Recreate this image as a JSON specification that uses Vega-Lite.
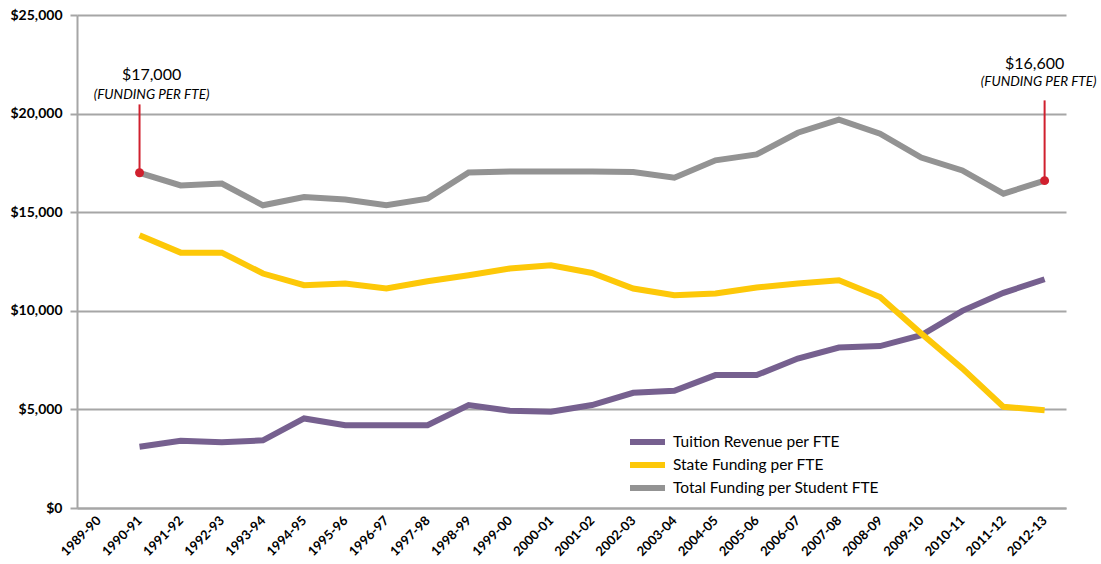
{
  "$schema": "https://vega.github.io/schema/vega-lite/v6.json",
  "width": 989,
  "height": 493,
  "autosize": "none",
  "padding": {"left": 77, "top": 15, "right": 35, "bottom": 56},
  "background": "white",
  "config": {
    "view": {"stroke": null},
    "font": "Lato"
  },
  "datasets": {
    "series": [
      {"year": "1990-91", "series": "Tuition Revenue per FTE", "value": 3110},
      {"year": "1991-92", "series": "Tuition Revenue per FTE", "value": 3410},
      {"year": "1992-93", "series": "Tuition Revenue per FTE", "value": 3330},
      {"year": "1993-94", "series": "Tuition Revenue per FTE", "value": 3430},
      {"year": "1994-95", "series": "Tuition Revenue per FTE", "value": 4540},
      {"year": "1995-96", "series": "Tuition Revenue per FTE", "value": 4200},
      {"year": "1996-97", "series": "Tuition Revenue per FTE", "value": 4200},
      {"year": "1997-98", "series": "Tuition Revenue per FTE", "value": 4200},
      {"year": "1998-99", "series": "Tuition Revenue per FTE", "value": 5220},
      {"year": "1999-00", "series": "Tuition Revenue per FTE", "value": 4930},
      {"year": "2000-01", "series": "Tuition Revenue per FTE", "value": 4880},
      {"year": "2001-02", "series": "Tuition Revenue per FTE", "value": 5220},
      {"year": "2002-03", "series": "Tuition Revenue per FTE", "value": 5840},
      {"year": "2003-04", "series": "Tuition Revenue per FTE", "value": 5940},
      {"year": "2004-05", "series": "Tuition Revenue per FTE", "value": 6740},
      {"year": "2005-06", "series": "Tuition Revenue per FTE", "value": 6740},
      {"year": "2006-07", "series": "Tuition Revenue per FTE", "value": 7580},
      {"year": "2007-08", "series": "Tuition Revenue per FTE", "value": 8140},
      {"year": "2008-09", "series": "Tuition Revenue per FTE", "value": 8210},
      {"year": "2009-10", "series": "Tuition Revenue per FTE", "value": 8760},
      {"year": "2010-11", "series": "Tuition Revenue per FTE", "value": 10000},
      {"year": "2011-12", "series": "Tuition Revenue per FTE", "value": 10910},
      {"year": "2012-13", "series": "Tuition Revenue per FTE", "value": 11600},
      {"year": "1990-91", "series": "State Funding per FTE", "value": 13830},
      {"year": "1991-92", "series": "State Funding per FTE", "value": 12950},
      {"year": "1992-93", "series": "State Funding per FTE", "value": 12950},
      {"year": "1993-94", "series": "State Funding per FTE", "value": 11890},
      {"year": "1994-95", "series": "State Funding per FTE", "value": 11300},
      {"year": "1995-96", "series": "State Funding per FTE", "value": 11380},
      {"year": "1996-97", "series": "State Funding per FTE", "value": 11130},
      {"year": "1997-98", "series": "State Funding per FTE", "value": 11500},
      {"year": "1998-99", "series": "State Funding per FTE", "value": 11800},
      {"year": "1999-00", "series": "State Funding per FTE", "value": 12140},
      {"year": "2000-01", "series": "State Funding per FTE", "value": 12310},
      {"year": "2001-02", "series": "State Funding per FTE", "value": 11920},
      {"year": "2002-03", "series": "State Funding per FTE", "value": 11130},
      {"year": "2003-04", "series": "State Funding per FTE", "value": 10790},
      {"year": "2004-05", "series": "State Funding per FTE", "value": 10880},
      {"year": "2005-06", "series": "State Funding per FTE", "value": 11180},
      {"year": "2006-07", "series": "State Funding per FTE", "value": 11380},
      {"year": "2007-08", "series": "State Funding per FTE", "value": 11550},
      {"year": "2008-09", "series": "State Funding per FTE", "value": 10700},
      {"year": "2009-10", "series": "State Funding per FTE", "value": 8850},
      {"year": "2010-11", "series": "State Funding per FTE", "value": 7080},
      {"year": "2011-12", "series": "State Funding per FTE", "value": 5130},
      {"year": "2012-13", "series": "State Funding per FTE", "value": 4960},
      {"year": "1990-91", "series": "Total Funding per Student FTE", "value": 17000},
      {"year": "1991-92", "series": "Total Funding per Student FTE", "value": 16360},
      {"year": "1992-93", "series": "Total Funding per Student FTE", "value": 16450},
      {"year": "1993-94", "series": "Total Funding per Student FTE", "value": 15350},
      {"year": "1994-95", "series": "Total Funding per Student FTE", "value": 15770},
      {"year": "1995-96", "series": "Total Funding per Student FTE", "value": 15640},
      {"year": "1996-97", "series": "Total Funding per Student FTE", "value": 15350},
      {"year": "1997-98", "series": "Total Funding per Student FTE", "value": 15690},
      {"year": "1998-99", "series": "Total Funding per Student FTE", "value": 17010},
      {"year": "1999-00", "series": "Total Funding per Student FTE", "value": 17070},
      {"year": "2000-01", "series": "Total Funding per Student FTE", "value": 17070},
      {"year": "2001-02", "series": "Total Funding per Student FTE", "value": 17070},
      {"year": "2002-03", "series": "Total Funding per Student FTE", "value": 17040},
      {"year": "2003-04", "series": "Total Funding per Student FTE", "value": 16750},
      {"year": "2004-05", "series": "Total Funding per Student FTE", "value": 17630},
      {"year": "2005-06", "series": "Total Funding per Student FTE", "value": 17930},
      {"year": "2006-07", "series": "Total Funding per Student FTE", "value": 19030},
      {"year": "2007-08", "series": "Total Funding per Student FTE", "value": 19690},
      {"year": "2008-09", "series": "Total Funding per Student FTE", "value": 18980},
      {"year": "2009-10", "series": "Total Funding per Student FTE", "value": 17770},
      {"year": "2010-11", "series": "Total Funding per Student FTE", "value": 17120},
      {"year": "2011-12", "series": "Total Funding per Student FTE", "value": 15940},
      {"year": "2012-13", "series": "Total Funding per Student FTE", "value": 16600}
    ],
    "notes": [
      {"year": "1990-91", "value": 17000, "top": 20466, "label": "$17,000", "labelY": 21935, "sub": "(FUNDING PER FTE)", "subY": 20922},
      {"year": "2012-13", "value": 16600, "top": 20670, "label": "$16,600", "labelY": 22492, "sub": "(FUNDING PER FTE)", "subY": 21580}
    ]
  },
  "encoding": {
    "x": {
      "field": "year",
      "type": "ordinal",
      "scale": {
        "type": "point",
        "domain": ["1989-90","1990-91","1991-92","1992-93","1993-94","1994-95","1995-96","1996-97","1997-98","1998-99","1999-00","2000-01","2001-02","2002-03","2003-04","2004-05","2005-06","2006-07","2007-08","2008-09","2009-10","2010-11","2011-12","2012-13"],
        "padding": 0.52
      },
      "axis": {
        "title": null,
        "labelAngle": -45,
        "labelAlign": "right",
        "labelBaseline": "middle",
        "labelFont": "Lato",
        "labelFontWeight": "bold",
        "labelFontSize": 13,
        "labelColor": "#000000",
        "labelPadding": 10,
        "ticks": false,
        "grid": false,
        "domainColor": "#a6a6a6",
        "domainWidth": 2
      }
    }
  },
  "layer": [
    {
      "data": {"name": "series"},
      "mark": {"type": "line", "strokeWidth": 6, "strokeCap": "butt", "strokeJoin": "miter"},
      "encoding": {
        "y": {
          "field": "value",
          "type": "quantitative",
          "scale": {"domain": [0, 25000], "nice": false},
          "axis": {
            "title": null,
            "values": [0, 5000, 10000, 15000, 20000, 25000],
            "format": "$,d",
            "labelFont": "Lato",
            "labelFontWeight": "bold",
            "labelFontSize": 14,
            "labelColor": "#000000",
            "labelPadding": 8,
            "tickSize": 7,
            "tickColor": "#a6a6a6",
            "tickWidth": 2,
            "domainColor": "#a6a6a6",
            "domainWidth": 2,
            "gridColor": "#a6a6a6",
            "gridWidth": 2,
            "gridOpacity": 1
          }
        },
        "color": {
          "field": "series",
          "type": "nominal",
          "scale": {
            "domain": ["Tuition Revenue per FTE", "State Funding per FTE", "Total Funding per Student FTE"],
            "range": ["#76608f", "#fdc808", "#939393"]
          },
          "legend": {
            "title": null,
            "orient": "none",
            "legendX": 550,
            "legendY": 418,
            "symbolType": "stroke",
            "symbolSize": 1225,
            "symbolStrokeWidth": 6,
            "clipHeight": 18,
            "rowPadding": 5,
            "labelFont": "Lato",
            "labelFontSize": 15.5,
            "labelColor": "#000000",
            "labelOffset": 5,
            "labelLimit": 400,
            "padding": 0
          }
        }
      }
    },
    {
      "data": {"name": "notes"},
      "mark": {"type": "rule", "color": "#d0202e", "strokeWidth": 2},
      "encoding": {
        "y": {"field": "value", "type": "quantitative"},
        "y2": {"field": "top"}
      }
    },
    {
      "data": {"name": "notes"},
      "mark": {"type": "point", "filled": true, "color": "#d0202e", "size": 80, "opacity": 1},
      "encoding": {
        "y": {"field": "value", "type": "quantitative"}
      }
    },
    {
      "data": {"name": "notes"},
      "transform": [{"filter": "datum.year === '1990-91'"}],
      "mark": {"type": "text", "font": "Lato", "fontSize": 16, "color": "#000000", "dx": 12, "baseline": "middle"},
      "encoding": {
        "y": {"field": "labelY", "type": "quantitative"},
        "text": {"field": "label"}
      }
    },
    {
      "data": {"name": "notes"},
      "transform": [{"filter": "datum.year === '1990-91'"}],
      "mark": {"type": "text", "font": "Lato", "fontSize": 13.5, "fontStyle": "italic", "color": "#000000", "dx": 12, "baseline": "middle"},
      "encoding": {
        "y": {"field": "subY", "type": "quantitative"},
        "text": {"field": "sub"}
      }
    },
    {
      "data": {"name": "notes"},
      "transform": [{"filter": "datum.year === '2012-13'"}],
      "mark": {"type": "text", "font": "Lato", "fontSize": 16, "color": "#000000", "dx": -10, "baseline": "middle"},
      "encoding": {
        "y": {"field": "labelY", "type": "quantitative"},
        "text": {"field": "label"}
      }
    },
    {
      "data": {"name": "notes"},
      "transform": [{"filter": "datum.year === '2012-13'"}],
      "mark": {"type": "text", "font": "Lato", "fontSize": 13.5, "fontStyle": "italic", "color": "#000000", "dx": -6, "baseline": "middle"},
      "encoding": {
        "y": {"field": "subY", "type": "quantitative"},
        "text": {"field": "sub"}
      }
    }
  ]
}
